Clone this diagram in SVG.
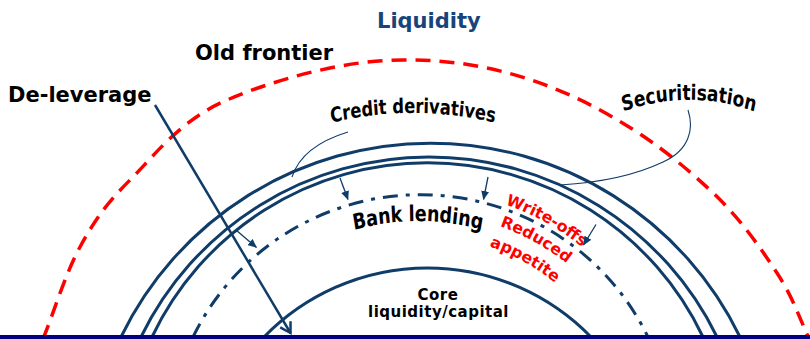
<svg xmlns="http://www.w3.org/2000/svg" width="810" height="339" viewBox="0 0 810 339">
  <defs>
    <style>
      .b { font-family: "DejaVu Sans", Verdana, sans-serif; font-weight: bold; }
      .ring { fill: none; stroke: #0f3c68; stroke-width: 3; }
      .thin { fill: none; stroke: #0f3c68; stroke-width: 1.1; }
      .ptr { fill: none; stroke: #0f3c68; stroke-width: 1.3; marker-end: url(#tri); }
      .red { fill: #ff0000; font-size: 15.8px; }
    </style>
    <marker id="tri" markerUnits="userSpaceOnUse" markerWidth="9" markerHeight="8" viewBox="0 0 9 8" refX="8.5" refY="4" orient="auto">
      <path d="M0,0 L9,4 L0,8 z" fill="#0f3c68"/>
    </marker>
    <marker id="open" markerUnits="userSpaceOnUse" markerWidth="16" markerHeight="18" viewBox="-3 -3 16 18" refX="10" refY="6" orient="auto" overflow="visible">
      <path d="M0,0 L10,6 L0,12" fill="none" stroke="#0f3c68" stroke-width="2.5" stroke-linejoin="miter"/>
    </marker>
    <!-- baselines for curved labels (the first three live in a 1.25x vertically stretched space) -->
    <path id="cd-path" d="M238,127.9 A350,280 0 0 1 588,127.9"/>
    <path id="sec-path" d="M553.9,124.7 A191,152.8 0 0 1 824.1,124.7"/>
    <path id="bl-path" d="M256.8,230.2 A228,182.4 0 0 1 579.2,230.2"/>
    <!-- red labels follow circles around the bank-lending ring centre (420.5,448) -->
    <path id="wo-path" d="M420.5,190 A258,258 0 0 1 639.3,311.3"/>
    <path id="rd-path" d="M420.5,212.5 A235.5,235.5 0 0 1 620.2,323.2"/>
    <path id="ap-path" d="M420.5,235 A213,213 0 0 1 601.1,335.1"/>
  </defs>

  <rect width="810" height="339" fill="#ffffff"/>

  <g id="title">
    <text class="b" x="377" y="28" font-size="21" fill="#17457a">Liquidity</text>
  </g>

  <g id="old-frontier">
    <path d="M43,339 C55.3,308.3 65.5,273.5 80,247 C94.5,220.5 105.5,204.5 130,180 C154.5,155.5 180.3,120 227,100 C273.7,80 347.8,58.3 410,60 C480,60 545,80 600,110 C650,137.3 680.5,162.8 710,190 C739.5,217.2 760,247.2 777,273 C794,298.8 800.3,321 812,345" fill="none" stroke="#ff0000" stroke-width="3.5" stroke-dasharray="15 9"/>
    <text class="b" x="195" y="60" font-size="21" fill="#000">Old frontier</text>
  </g>

  <g id="liquidity-rings">
    <path id="credit-derivatives-ring" class="ring" d="M121,337 A344,344 0 0 1 740,337"/>
    <path id="securitisation-ring" class="ring" d="M141,337 A320.4,320.4 0 0 1 717,337"/>
    <path id="inner-ring" class="ring" d="M152,337 A305,305 0 0 1 703,337"/>
  </g>

  <g id="credit-derivatives">
    <text class="b" font-size="16.3" fill="#000" transform="scale(1,1.25)" text-anchor="middle"><textPath href="#cd-path" startOffset="50%">Credit derivatives</textPath></text>
  </g>

  <g id="securitisation">
    <text class="b" font-size="17" fill="#000" transform="scale(1,1.25)" text-anchor="middle"><textPath href="#sec-path" startOffset="50%">Securitisation</textPath></text>
  </g>

  <g id="bank-lending">
    <path class="ring" d="M193,337 A253,253 0 0 1 648,337" stroke-dasharray="15 8 4 8"/>
    <text class="b" font-size="17.5" fill="#000" transform="scale(1,1.25)" text-anchor="middle"><textPath href="#bl-path" startOffset="50%">Bank lending</textPath></text>
  </g>

  <g id="pressures">
    <text class="b red" text-anchor="middle"><textPath href="#wo-path" startOffset="50%">Write-offs</textPath></text>
    <text class="b red" text-anchor="middle"><textPath href="#rd-path" startOffset="50%">Reduced</textPath></text>
    <text class="b red" text-anchor="middle"><textPath href="#ap-path" startOffset="50%">appetite</textPath></text>
  </g>

  <g id="core">
    <path class="ring" d="M264,337 A228,228 0 0 1 591,337"/>
    <text class="b" x="438" y="300" font-size="15" letter-spacing="0.5" fill="#000" text-anchor="middle">Core</text>
    <text class="b" x="438.5" y="317" font-size="15" letter-spacing="0.5" fill="#000" text-anchor="middle">liquidity/capital</text>
  </g>

  <g id="de-leverage">
    <text class="b" x="8" y="102" font-size="21" fill="#000">De-leverage</text>
  </g>

  <g id="connectors">
    <path d="M155,105 L290.5,333" fill="none" stroke="#0f3c68" stroke-width="2.5" marker-end="url(#open)"/>
    <path class="ptr" d="M236,230 L256.5,247.5"/>
    <path class="ptr" d="M340,178 L348,199.5"/>
    <path class="ptr" d="M488,177 L483.5,199.5"/>
    <path class="ptr" d="M596,224.5 L583.5,245"/>
    <path class="thin" d="M348,132 C325,139 300,152 292,177"/>
    <path class="thin" d="M688,110 C694,128 690,150 663,162 C640,173 610,182 560,185"/>
  </g>

  <rect id="ground" x="0" y="335" width="810" height="4" fill="#000080"/>
</svg>
